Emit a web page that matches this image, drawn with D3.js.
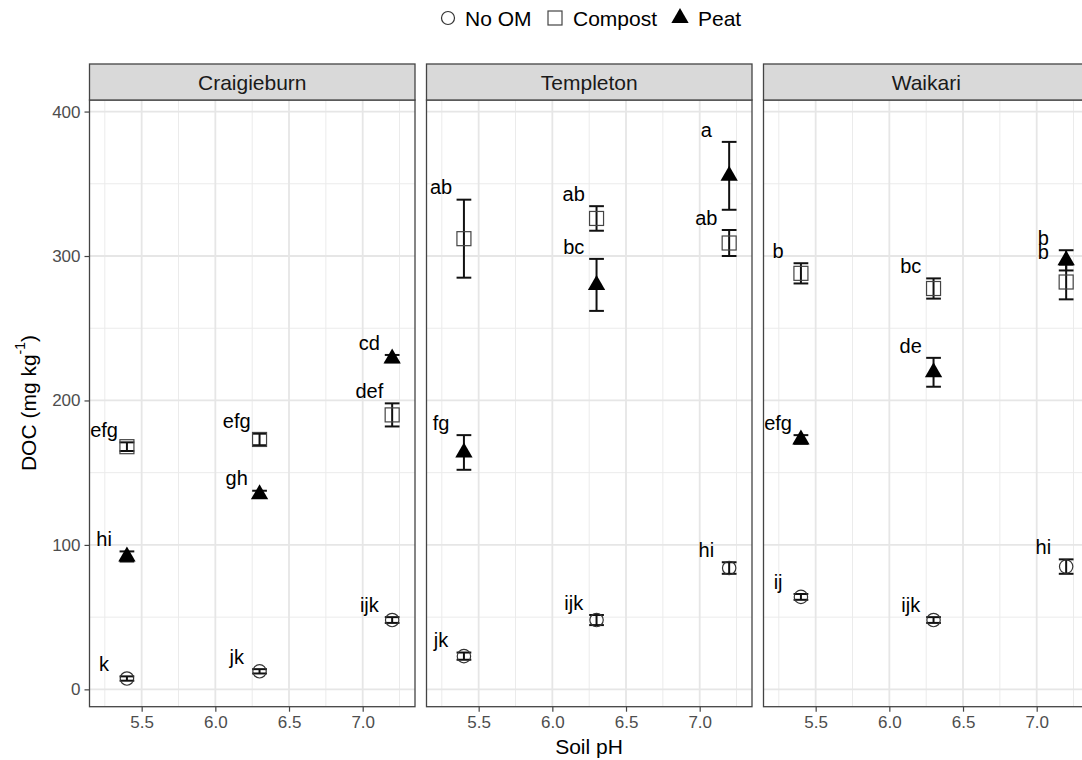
<!DOCTYPE html>
<html>
<head>
<meta charset="utf-8">
<script src="https://cdn.jsdelivr.net/npm/d3@7"></script>
<style>
  body { margin: 0; background: #fff; }
  svg text { font-family: "Liberation Sans", Arial, sans-serif; }
</style>
</head>
<body>
<div id="chart"></div>
<script>
// Sites (facets) and soil pH levels
const sites = ["Craigieburn", "Templeton", "Waikari"];
const phLevels = [5.4, 6.3, 7.2];
const treatments = ["No OM", "Compost", "Peat"];

// DOC means (mg/kg), one row per site, one value per pH level
const meanNoOM = [[7.5, 12.5, 48], [23, 48, 84], [64, 48, 85]];
const seNoOM = [[1.5, 1.5, 2], [2.5, 3.5, 4], [2, 2, 5]];
const letNoOM = [["k", "jk", "ijk"], ["jk", "ijk", "hi"], ["ij", "ijk", "hi"]];

const meanCompost = [[168, 173, 190], [312, 326, 309], [288, 277.5, 282]];
const seCompost = [[3, 4, 8], [27, 8.5, 9], [7, 7, 12]];
const letCompost = [["efg", "efg", "def"], ["ab", "ab", "ab"], ["b", "bc", "b"]];

const meanPeat = [[92, 135, 229], [164, 280, 355.5], [173, 219.5, 297]];
const sePeat = [[3.5, 2.5, 2.5], [12, 18, 23.5], [3, 10, 7]];
const letPeat = [["hi", "gh", "cd"], ["fg", "bc", "a"], ["efg", "de", "b"]];

const xTicks = [5.5, 6.0, 6.5, 7.0];
const yTicks = [0, 100, 200, 300, 400];

// build a flat table from the arrays
const rows = [];
const byTreat = [[meanNoOM, seNoOM, letNoOM], [meanCompost, seCompost, letCompost], [meanPeat, sePeat, letPeat]];
treatments.forEach((t, ti) => {
  sites.forEach((s, si) => {
    phLevels.forEach((ph, pi) => {
      rows.push({
        treatment: t, site: s, ph: ph,
        mean: byTreat[ti][0][si][pi],
        se: byTreat[ti][1][si][pi],
        letter: byTreat[ti][2][si][pi]
      });
    });
  });
});

const width = 1082, height = 760;
const panelLeft = [89.5, 426.5, 763.5];
const panelW = 325.5;
const stripTop = 64, panelTop = 100, panelBottom = 706.7;
const panelH = panelBottom - panelTop;

const svg = d3.select("#chart").append("svg")
  .attr("width", width).attr("height", height);

const x = d3.scaleLinear().domain([5.146, 7.355]).range([0, panelW]);
const y = d3.scaleLinear().domain([-12, 408]).range([panelH, 0]);

const minorX = [5.25, 5.75, 6.25, 6.75, 7.25];
const minorY = [50, 150, 250, 350];

sites.forEach((site, si) => {
  const g = svg.append("g").attr("transform", `translate(${panelLeft[si]},${panelTop})`);

  // grid
  g.selectAll(".minx").data(minorX).join("line")
    .attr("x1", d => x(d)).attr("x2", d => x(d)).attr("y1", 0).attr("y2", panelH)
    .attr("stroke", "#ebebeb").attr("stroke-width", 1);
  g.selectAll(".miny").data(minorY).join("line")
    .attr("y1", d => y(d)).attr("y2", d => y(d)).attr("x1", 0).attr("x2", panelW)
    .attr("stroke", "#ebebeb").attr("stroke-width", 1);
  g.selectAll(".majx").data(xTicks).join("line")
    .attr("x1", d => x(d)).attr("x2", d => x(d)).attr("y1", 0).attr("y2", panelH)
    .attr("stroke", "#e6e6e6").attr("stroke-width", 1.8);
  g.selectAll(".majy").data(yTicks).join("line")
    .attr("y1", d => y(d)).attr("y2", d => y(d)).attr("x1", 0).attr("x2", panelW)
    .attr("stroke", "#e6e6e6").attr("stroke-width", 1.8);

  const data = rows.filter(r => r.site === site);

  // error bars
  const eb = g.selectAll(".eb").data(data).join("g").attr("stroke", "#111").attr("stroke-width", 2);
  eb.append("line")
    .attr("x1", d => x(d.ph)).attr("x2", d => x(d.ph))
    .attr("y1", d => y(d.mean - d.se)).attr("y2", d => y(d.mean + d.se));
  eb.append("line")
    .attr("x1", d => x(d.ph - 0.05)).attr("x2", d => x(d.ph + 0.05))
    .attr("y1", d => y(d.mean - d.se)).attr("y2", d => y(d.mean - d.se));
  eb.append("line")
    .attr("x1", d => x(d.ph - 0.05)).attr("x2", d => x(d.ph + 0.05))
    .attr("y1", d => y(d.mean + d.se)).attr("y2", d => y(d.mean + d.se));

  // points
  g.selectAll(".pt-noom").data(data.filter(d => d.treatment === "No OM")).join("circle")
    .attr("cx", d => x(d.ph)).attr("cy", d => y(d.mean)).attr("r", 6.7)
    .attr("fill", "none").attr("stroke", "#333").attr("stroke-width", 1.2);
  g.selectAll(".pt-comp").data(data.filter(d => d.treatment === "Compost")).join("rect")
    .attr("x", d => x(d.ph) - 7).attr("y", d => y(d.mean) - 7)
    .attr("width", 14).attr("height", 14)
    .attr("fill", "none").attr("stroke", "#444").attr("stroke-width", 1.2);
  g.selectAll(".pt-peat").data(data.filter(d => d.treatment === "Peat")).join("path")
    .attr("transform", d => `translate(${x(d.ph)},${y(d.mean)})`)
    .attr("d", d3.symbol(d3.symbolTriangle, 130))
    .attr("fill", "#000");

  // significance letters
  g.selectAll(".lab").data(data).join("text")
    .attr("x", d => x(d.ph - 0.155)).attr("y", d => y(d.mean + d.se + 8.5))
    .attr("text-anchor", "middle").attr("dominant-baseline", "central")
    .attr("font-size", 20).attr("fill", "#000")
    .text(d => d.letter);

  // panel border
  g.append("rect").attr("width", panelW).attr("height", panelH)
    .attr("fill", "none").attr("stroke", "#444").attr("stroke-width", 1.3);

  // strip
  const strip = svg.append("g").attr("transform", `translate(${panelLeft[si]},${stripTop})`);
  strip.append("rect").attr("width", panelW).attr("height", panelTop - stripTop)
    .attr("fill", "#d9d9d9").attr("stroke", "#444").attr("stroke-width", 1.3);
  strip.append("text").attr("x", panelW / 2).attr("y", (panelTop - stripTop) / 2)
    .attr("text-anchor", "middle").attr("dominant-baseline", "central")
    .attr("font-size", 21).attr("fill", "#1a1a1a").text(site);

  // x axis
  const xa = svg.append("g").attr("transform", `translate(${panelLeft[si]},${panelBottom})`)
    .call(d3.axisBottom(x).tickValues(xTicks).tickFormat(d3.format(".1f")).tickSize(5).tickPadding(4));
  xa.select(".domain").remove();
  xa.selectAll("line").attr("stroke", "#444").attr("stroke-width", 1.2);
  xa.selectAll("text").attr("font-size", 17).attr("fill", "#4d4d4d")
    .attr("font-family", "Liberation Sans, Arial, sans-serif");

  if (si === 0) {
    const ya = svg.append("g").attr("transform", `translate(${panelLeft[0]},${panelTop})`)
      .call(d3.axisLeft(y).tickValues(yTicks).tickSize(5).tickPadding(4));
    ya.select(".domain").remove();
    ya.selectAll("line").attr("stroke", "#444").attr("stroke-width", 1.2);
    ya.selectAll("text").attr("font-size", 17).attr("fill", "#4d4d4d")
      .attr("font-family", "Liberation Sans, Arial, sans-serif");
  }
});

// axis titles
svg.append("text").attr("x", 589).attr("y", 746)
  .attr("text-anchor", "middle").attr("dominant-baseline", "central")
  .attr("font-size", 21).attr("fill", "#000").text("Soil pH");

const yt = svg.append("text")
  .attr("transform", `translate(28,403) rotate(-90)`)
  .attr("text-anchor", "middle").attr("dominant-baseline", "central")
  .attr("font-size", 21).attr("fill", "#000");
yt.append("tspan").text("DOC (mg kg");
yt.append("tspan").attr("dy", -8).attr("font-size", 14).text("-1");
yt.append("tspan").attr("dy", 8).text(")");

// legend
const legend = svg.append("g").attr("transform", "translate(0,18)");
const legX = [448, 555, 680];
const legTextX = [465, 573, 698];
legend.append("circle").attr("cx", legX[0]).attr("cy", 0).attr("r", 6.5)
  .attr("fill", "none").attr("stroke", "#333").attr("stroke-width", 1.2);
legend.append("rect").attr("x", legX[1] - 7).attr("y", -7).attr("width", 14).attr("height", 14)
  .attr("fill", "none").attr("stroke", "#444").attr("stroke-width", 1.2);
legend.append("path").attr("transform", `translate(${legX[2]},0)`)
  .attr("d", d3.symbol(d3.symbolTriangle, 130)).attr("fill", "#000");
legend.selectAll(".lt").data(treatments).join("text")
  .attr("x", (d, i) => legTextX[i]).attr("y", 0)
  .attr("dominant-baseline", "central").attr("font-size", 21).attr("fill", "#000")
  .text(d => d);
</script>
</body>
</html>
